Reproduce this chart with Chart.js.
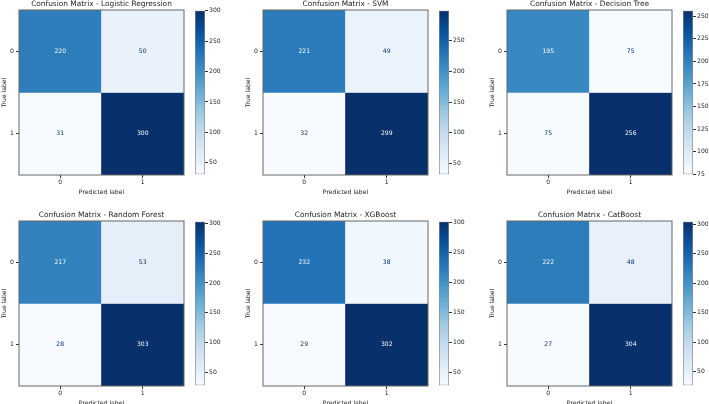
<!DOCTYPE html>
<html>
<head>
<meta charset="utf-8">
<script src="https://cdn.jsdelivr.net/npm/chart.js@4.4.1/dist/chart.umd.min.js"></script>
<style>
  html, body { margin: 0; padding: 0; background: #fff; }
  #page { position: relative; width: 709px; height: 404px; overflow: hidden; }
  .box { position: absolute; }
  canvas { display: block; }
</style>
</head>
<body>
<div id="page"></div>
<script>
// confusion matrices (rows = true label, cols = predicted)
const modelNames = ['Logistic Regression', 'SVM', 'Decision Tree', 'Random Forest', 'XGBoost', 'CatBoost'];
const classLabels = ['0', '1'];
const cmLogReg = [[220, 50], [31, 300]];
const cmSvm = [[221, 49], [32, 299]];
const cmTree = [[195, 75], [75, 256]];
const cmForest = [[217, 53], [28, 303]];
const cmXgb = [[232, 38], [29, 302]];
const cmCat = [[222, 48], [27, 304]];
const colorbarStep = [50, 50, 25, 50, 50, 50];

const matrices = [cmLogReg, cmSvm, cmTree, cmForest, cmXgb, cmCat];

// matplotlib "Blues"
const blues = ['#f7fbff', '#deebf7', '#c6dbef', '#9ecae1', '#6baed6', '#4292c6', '#2171b5', '#08519c', '#08306b'];

function hexToRgb(h) {
    return [parseInt(h.slice(1, 3), 16), parseInt(h.slice(3, 5), 16), parseInt(h.slice(5, 7), 16)];
}

function bluesAt(t) {
    t = Math.max(0, Math.min(1, t));
    const pos = t * (blues.length - 1);
    const i = Math.min(Math.floor(pos), blues.length - 2);
    const f = pos - i;
    const a = hexToRgb(blues[i]), b = hexToRgb(blues[i + 1]);
    const c = a.map((v, k) => Math.round(v + (b[k] - v) * f));
    return `rgb(${c[0]}, ${c[1]}, ${c[2]})`;
}

const FONT = "'DejaVu Sans', sans-serif";
const tickFont = { family: FONT, size: 6.1 };
const titleFont = { family: FONT, size: 7.4 };
const textColor = '#222';
const frameColor = '#666';

const panelX = [19, 263, 507];
const panelY = [10, 221];
const side = 165;
const titleH = 10;
const leftAxisW = 19;
const bottomAxisH = 21;

const page = document.getElementById('page');

function addCanvas(left, top, w, h) {
    const div = document.createElement('div');
    div.className = 'box';
    div.style.left = left + 'px';
    div.style.top = top + 'px';
    const c = document.createElement('canvas');
    c.width = w;
    c.height = h;
    c.style.width = w + 'px';
    c.style.height = h + 'px';
    div.appendChild(c);
    page.appendChild(div);
    return c.getContext('2d');
}

// frame around the plot area, like the axes spines
const framePlugin = {
    id: 'frame',
    afterDatasetsDraw(chart) {
        const { ctx, chartArea } = chart;
        ctx.save();
        ctx.strokeStyle = frameColor;
        ctx.lineWidth = 1;
        ctx.strokeRect(chartArea.left, chartArea.top, chartArea.right - chartArea.left, chartArea.bottom - chartArea.top);
        ctx.restore();
    }
};

// cell counts in the middle of each cell
const cellTextPlugin = {
    id: 'cellText',
    afterDatasetsDraw(chart) {
        const m = chart.options.plugins.cellText.matrix;
        const vmin = Math.min(...m.flat()), vmax = Math.max(...m.flat());
        const thresh = (vmin + vmax) / 2;
        const ctx = chart.ctx;
        ctx.save();
        ctx.font = `${tickFont.size}px ${FONT}`;
        ctx.textAlign = 'center';
        ctx.textBaseline = 'middle';
        chart.data.datasets.forEach((ds, r) => {
            chart.getDatasetMeta(r).data.forEach((bar, c) => {
                const v = m[r][c];
                ctx.fillStyle = v < thresh ? blues[blues.length - 1] : blues[0];
                ctx.fillText(String(v), bar.x, (bar.y + bar.base) / 2);
            });
        });
        ctx.restore();
    }
};

function drawPanel(idx) {
    const m = matrices[idx];
    const px = panelX[idx % 3];
    const py = panelY[Math.floor(idx / 3)];
    const vmin = Math.min(...m.flat());
    const vmax = Math.max(...m.flat());
    const norm = v => (v - vmin) / (vmax - vmin);

    const ctx = addCanvas(px - leftAxisW, py - titleH, leftAxisW + side + 1, titleH + side + bottomAxisH);
    const datasets = m.map((row, r) => ({
        data: row.map(() => [r, r + 1]),
        backgroundColor: row.map(v => bluesAt(norm(v))),
        borderWidth: 0,
        grouped: false,
        categoryPercentage: 1,
        barPercentage: 1
    }));

    new Chart(ctx, {
        type: 'bar',
        data: { labels: classLabels, datasets: datasets },
        options: {
            responsive: false,
            animation: false,
            layout: { padding: { right: 1 } },
            scales: {
                x: {
                    grid: { display: true, drawOnChartArea: false, offset: false, tickLength: 3, color: '#333' },
                    border: { display: false },
                    ticks: { color: textColor, font: tickFont, padding: 1, maxRotation: 0 },
                    title: { display: true, text: 'Predicted label', color: textColor, font: tickFont, padding: { top: 1, bottom: 0 } },
                    afterFit: s => { s.height = bottomAxisH; }
                },
                y: {
                    type: 'linear',
                    min: 0,
                    max: 2,
                    reverse: true,
                    afterBuildTicks: s => { s.ticks = [{ value: 0.5 }, { value: 1.5 }]; },
                    grid: { display: true, drawOnChartArea: false, tickLength: 3, color: '#333' },
                    border: { display: false },
                    ticks: { color: textColor, font: tickFont, padding: 2, callback: v => classLabels[Math.floor(v)] },
                    title: { display: true, text: 'True label', color: textColor, font: tickFont, padding: 1 },
                    afterFit: s => { s.width = leftAxisW; }
                }
            },
            plugins: {
                legend: { display: false },
                tooltip: { enabled: false },
                title: {
                    display: true,
                    text: 'Confusion Matrix - ' + modelNames[idx],
                    color: textColor,
                    font: Object.assign({ weight: 'normal' }, titleFont),
                    fullSize: false,
                    padding: { top: 0, bottom: 1.12 }
                },
                cellText: { matrix: m }
            }
        },
        plugins: [framePlugin, cellTextPlugin]
    });

    // colorbar
    const cbCtx = addCanvas(px + side + 10, py - 4, 1 + 10 + 26, 4 + side + 4);
    new Chart(cbCtx, {
        type: 'bar',
        data: {
            labels: [''],
            datasets: [{
                data: [[vmin, vmax]],
                backgroundColor: (c) => {
                    const area = c.chart.chartArea;
                    if (!area) return blues[4];
                    const g = c.chart.ctx.createLinearGradient(0, area.bottom, 0, area.top);
                    blues.forEach((col, k) => g.addColorStop(k / (blues.length - 1), col));
                    return g;
                },
                borderColor: '#888',
                borderWidth: 1,
                borderSkipped: false,
                categoryPercentage: 1,
                barPercentage: 1
            }]
        },
        options: {
            responsive: false,
            animation: false,
            layout: { padding: { left: 1, top: 4, bottom: 4, right: 0 } },
            scales: {
                x: { display: false },
                y: {
                    position: 'right',
                    min: vmin,
                    max: vmax,
                    grid: { display: true, drawOnChartArea: false, tickLength: 3, color: '#333' },
                    border: { display: false },
                    ticks: { stepSize: colorbarStep[idx], includeBounds: false, color: textColor, font: tickFont, padding: 1 },
                    afterFit: s => { s.width = 26; }
                }
            },
            plugins: { legend: { display: false }, tooltip: { enabled: false } }
        }
    });
}

for (let i = 0; i < matrices.length; i++) {
    drawPanel(i);
}
</script>
</body>
</html>
